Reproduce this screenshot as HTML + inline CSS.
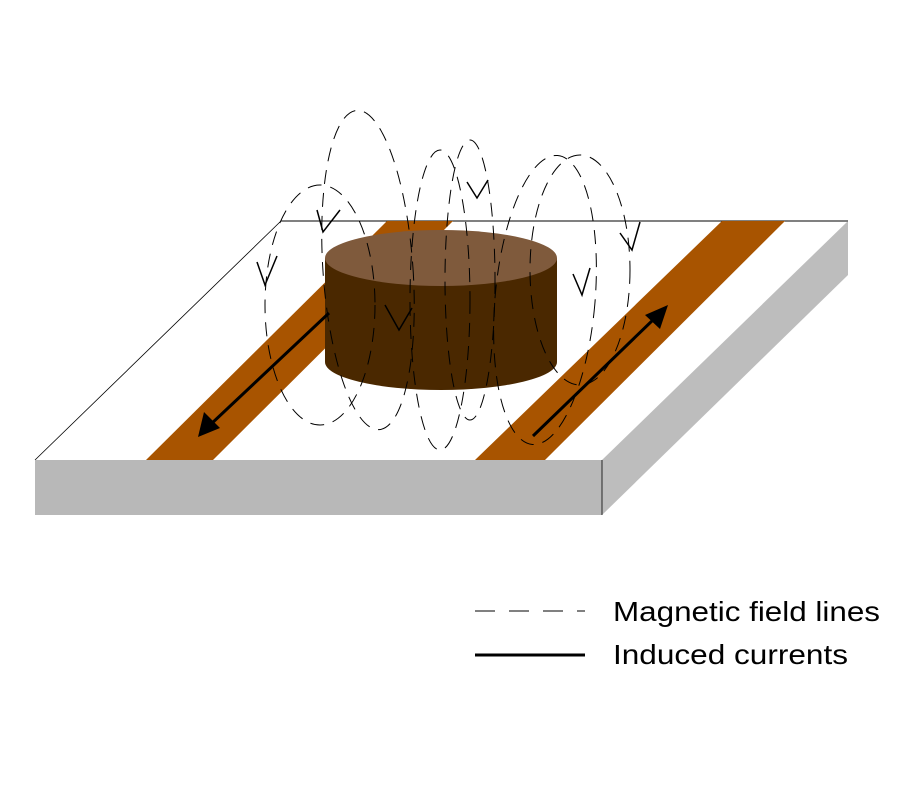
<!DOCTYPE html>
<html><head><style>body{margin:0;background:#fff}</style></head><body>
<svg width="900" height="800" xmlns="http://www.w3.org/2000/svg" style="display:block">
<rect width="900" height="800" fill="#fff"/>
<polygon points="281,221 848,221 602,460 35,460" fill="#fff"/>
<line x1="281" y1="221" x2="848" y2="221" stroke="#000" stroke-width="1"/>
<line x1="281" y1="221" x2="35" y2="460" stroke="#000" stroke-width="0.8"/>
<polygon points="387,221 453,221 213,460 146,460" fill="#a85400"/>
<polygon points="722,221 785,221 545,460 475,460" fill="#a85400"/>
<rect x="35" y="460" width="567" height="55" fill="#b8b8b8"/>
<polygon points="602,460 848,221 848,275 602,515" fill="#bdbdbd"/>
<line x1="602" y1="460" x2="602" y2="515" stroke="#000" stroke-width="0.8"/>
<!-- cylinder -->
<path d="M325,258 L325,362 A116,28 0 0 0 557,362 L557,258 Z" fill="#4a2800"/>
<ellipse cx="441" cy="258" rx="116" ry="28" fill="#7f5a3c"/>
<!-- arrows -->
<g stroke="#000" stroke-width="3">
<line x1="329" y1="313" x2="210" y2="425"/>
<line x1="533" y1="436" x2="655" y2="318"/>
</g>
<polygon points="198,437 204,412 220,428" fill="#000"/>
<polygon points="668,305 645,315 660,329" fill="#000"/>
<!-- field lines -->
<g fill="none" stroke="#000" stroke-width="1" stroke-dasharray="14,9">
<ellipse cx="320" cy="305" rx="55" ry="120"/>
<ellipse cx="368" cy="270" rx="45" ry="160" transform="rotate(-4 368 270)"/>
<ellipse cx="440" cy="300" rx="30" ry="150"/>
<ellipse cx="470" cy="280" rx="25" ry="140"/>
<ellipse cx="545" cy="300" rx="50" ry="145" transform="rotate(5 545 300)"/>
<ellipse cx="580" cy="270" rx="50" ry="115"/>
</g>
<g fill="none" stroke="#000" stroke-width="1.5">
<polyline points="317,210 323,232 340,210"/>
<polyline points="257,262 265,285 277,256"/>
<polyline points="385,305 399,330 412,308"/>
<polyline points="467,182 477,198 488,180"/>
<polyline points="573,274 582,295 590,268"/>
<polyline points="620,233 632,250 640,222"/>
</g>
<!-- legend -->
<line x1="475" y1="611" x2="585" y2="611" stroke="#000" stroke-width="1" stroke-dasharray="20,14"/>
<line x1="475" y1="655" x2="585" y2="655" stroke="#000" stroke-width="3"/>
<text x="613" y="621" font-family="Liberation Sans, sans-serif" font-size="28" textLength="267" lengthAdjust="spacingAndGlyphs">Magnetic field lines</text>
<text x="613" y="664" font-family="Liberation Sans, sans-serif" font-size="28" textLength="235" lengthAdjust="spacingAndGlyphs">Induced currents</text>
</svg>
</body></html>
